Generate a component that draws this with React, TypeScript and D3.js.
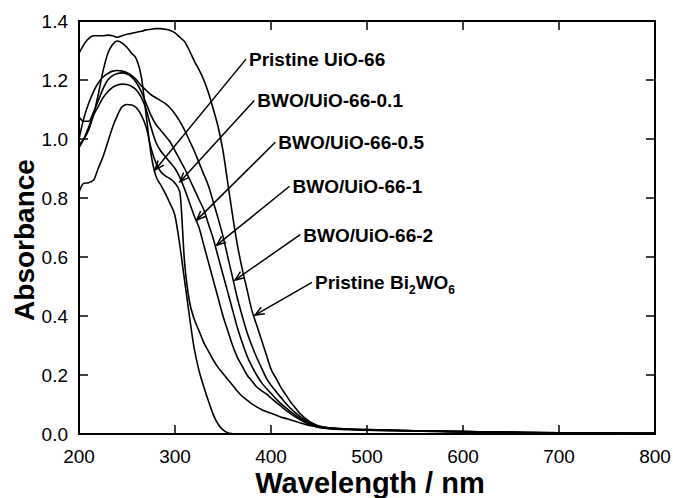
import React from "react";
import * as d3 from "d3";

const gridA = d3.range(200, 451, 5);
const gridB = [460, 480, 500, 550, 600, 650, 700, 750, 800];
const wavelengths = [...gridA, ...gridB];

const uio66 = [0.98, 1.0, 1.03, 1.08, 1.15, 1.23, 1.29, 1.32, 1.332, 1.325, 1.31, 1.29, 1.27, 1.21, 1.08, 0.95, 0.875, 0.845, 0.815, 0.78, 0.74, 0.64, 0.52, 0.4, 0.29, 0.215, 0.16, 0.11, 0.065, 0.033, 0.014, 0.004, 0.001, 0, 0, 0, 0, 0, 0, 0, 0, 0, 0, 0, 0, 0, 0, 0, 0, 0, 0,
  0, 0, 0, 0, 0, 0, 0, 0, 0];
const bwo01 = [0.82, 0.85, 0.852, 0.86, 0.9, 0.94, 0.99, 1.04, 1.08, 1.11, 1.117, 1.115, 1.105, 1.08, 1.04, 0.97, 0.92, 0.89, 0.875, 0.865, 0.85, 0.82, 0.58, 0.45, 0.39, 0.35, 0.31, 0.28, 0.25, 0.225, 0.205, 0.185, 0.165, 0.145, 0.128, 0.115, 0.102, 0.092, 0.083, 0.076, 0.07, 0.064, 0.058, 0.053, 0.048, 0.043, 0.038, 0.033, 0.029, 0.026, 0.023,
  0.019, 0.015, 0.013, 0.01, 0.007, 0.005, 0.004, 0.003, 0.002];
const bwo05 = [0.97, 1.0, 1.04, 1.08, 1.11, 1.14, 1.16, 1.175, 1.183, 1.186, 1.185, 1.178, 1.165, 1.14, 1.1, 1.04, 0.99, 0.96, 0.94, 0.92, 0.9, 0.87, 0.83, 0.785, 0.74, 0.7, 0.64, 0.58, 0.52, 0.46, 0.4, 0.35, 0.3, 0.26, 0.23, 0.2, 0.18, 0.16, 0.147, 0.136, 0.122, 0.108, 0.095, 0.082, 0.07, 0.059, 0.049, 0.04, 0.033, 0.027, 0.022,
  0.018, 0.015, 0.013, 0.01, 0.008, 0.006, 0.004, 0.003, 0.002];
const bwo1 = [1.075, 1.06, 1.06, 1.09, 1.13, 1.17, 1.2, 1.215, 1.222, 1.224, 1.22, 1.21, 1.19, 1.16, 1.12, 1.08, 1.05, 1.03, 1.01, 0.99, 0.96, 0.93, 0.9, 0.865, 0.83, 0.795, 0.76, 0.71, 0.66, 0.6, 0.54, 0.48, 0.42, 0.36, 0.31, 0.265, 0.23, 0.2, 0.175, 0.155, 0.138, 0.12, 0.104, 0.09, 0.077, 0.065, 0.054, 0.045, 0.037, 0.03, 0.025,
  0.02, 0.016, 0.014, 0.011, 0.008, 0.006, 0.004, 0.003, 0.002];
const bwo2 = [1.0, 1.07, 1.12, 1.16, 1.19, 1.21, 1.222, 1.23, 1.232, 1.23, 1.225, 1.215, 1.2, 1.18, 1.165, 1.15, 1.14, 1.13, 1.12, 1.105, 1.085, 1.06, 1.03, 0.995, 0.96, 0.92, 0.88, 0.84, 0.785, 0.73, 0.67, 0.6, 0.53, 0.46, 0.4, 0.345, 0.3, 0.26, 0.225, 0.19, 0.165, 0.145, 0.125, 0.105, 0.088, 0.073, 0.06, 0.049, 0.04, 0.032, 0.026,
  0.021, 0.017, 0.015, 0.011, 0.008, 0.006, 0.004, 0.003, 0.002];
const bi2wo6 = [1.29, 1.32, 1.34, 1.35, 1.35, 1.35, 1.352, 1.35, 1.345, 1.35, 1.355, 1.358, 1.362, 1.365, 1.37, 1.372, 1.374, 1.374, 1.372, 1.368, 1.36, 1.345, 1.33, 1.3, 1.265, 1.235, 1.2, 1.155, 1.1, 1.04, 0.96, 0.85, 0.74, 0.64, 0.56, 0.49, 0.42, 0.37, 0.32, 0.27, 0.22, 0.19, 0.16, 0.135, 0.11, 0.09, 0.07, 0.055, 0.043, 0.034, 0.027,
  0.021, 0.017, 0.015, 0.011, 0.008, 0.006, 0.004, 0.003, 0.002];

const seriesList = [uio66, bwo01, bwo05, bwo1, bwo2, bi2wo6];

const xTicks = [200, 300, 400, 500, 600, 700, 800];
const yTicks = [0.0, 0.2, 0.4, 0.6, 0.8, 1.0, 1.2, 1.4];

// annotation: label anchor (data coords) and arrow tip (data coords)
const labelTexts = ["Pristine UiO-66", "BWO/UiO-66-0.1", "BWO/UiO-66-0.5", "BWO/UiO-66-1", "BWO/UiO-66-2", "Pristine Bi2WO6"];
const labelX = [377.1, 385.7, 407.6, 422.5, 433.6, 445.8];
const labelY = [1.247, 1.107, 0.965, 0.816, 0.652, 0.49];
const tipX = [279.2, 305.2, 322.6, 343.4, 362.5, 383.3];
const tipY = [0.895, 0.855, 0.725, 0.64, 0.522, 0.403];

const W = 673, H = 498;
const L = 79, R = 655, T = 21, B = 434;

export default function App() {
  const x = d3.scaleLinear().domain([200, 800]).range([L, R]);
  const y = d3.scaleLinear().domain([0, 1.4]).range([B, T]);
  const line = d3
    .line<number>()
    .x((_, i) => x(wavelengths[i]))
    .y((d) => y(d))
    .curve(d3.curveMonotoneX);
  const font = "'Liberation Sans', Arial, Helvetica, sans-serif";
  const tick = 9;

  const arrowHead = (x1: number, y1: number, x2: number, y2: number) => {
    const ang = Math.atan2(y2 - y1, x2 - x1);
    const len = 10, spread = 0.38;
    const a1 = ang + Math.PI - spread, a2 = ang + Math.PI + spread;
    return `M${x2 + len * Math.cos(a1)},${y2 + len * Math.sin(a1)}L${x2},${y2}L${x2 + len * Math.cos(a2)},${y2 + len * Math.sin(a2)}`;
  };

  return (
    <svg width={W} height={H} style={{ position: "absolute", left: 0, top: 0, background: "#fff" }} fontFamily={font}>
      <rect x={0} y={0} width={W} height={H} fill="#fff" />
      <defs>
        <clipPath id="plot">
          <rect x={L} y={T - 2} width={R - L} height={B - T + 2} />
        </clipPath>
      </defs>
      <g clipPath="url(#plot)">
        {seriesList.map((s, i) => (
          <path key={i} d={line(s) || ""} fill="none" stroke="#000" strokeWidth={1.6} strokeLinejoin="round" />
        ))}
      </g>
      {/* frame */}
      <rect x={L} y={T} width={R - L} height={B - T} fill="none" stroke="#000" strokeWidth={2} />
      {/* ticks */}
      {xTicks.map((t) => (
        <g key={"x" + t}>
          <line x1={x(t)} x2={x(t)} y1={B} y2={B - tick} stroke="#000" strokeWidth={1.5} />
          <line x1={x(t)} x2={x(t)} y1={T} y2={T + tick} stroke="#000" strokeWidth={1.5} />
          <text x={x(t)} y={B + 29} textAnchor="middle" fontSize={19} fill="#000">
            {t}
          </text>
        </g>
      ))}
      {yTicks.map((t) => (
        <g key={"y" + t}>
          <line x1={L} x2={L + tick} y1={y(t)} y2={y(t)} stroke="#000" strokeWidth={1.5} />
          <line x1={R} x2={R - tick} y1={y(t)} y2={y(t)} stroke="#000" strokeWidth={1.5} />
          <text x={L - 11} y={y(t)} dy="0.36em" textAnchor="end" fontSize={19} fill="#000">
            {t.toFixed(1)}
          </text>
        </g>
      ))}
      {/* axis titles */}
      <text x={370} y={493} textAnchor="middle" fontSize={29} fontWeight="bold" fill="#000">
        Wavelength / nm
      </text>
      <text transform={`translate(34,240) rotate(-90)`} textAnchor="middle" fontSize={28} fontWeight="bold" fill="#000">
        Absorbance
      </text>
      {/* annotations */}
      {labelTexts.map((txt, i) => {
        const lx = x(labelX[i]), ly = y(labelY[i]);
        const sx = lx - 3, sy = ly - 7;
        const tx = x(tipX[i]), ty = y(tipY[i]);
        const isBi = txt.includes("Bi2WO6");
        return (
          <g key={"a" + i}>
            <line x1={sx} y1={sy} x2={tx} y2={ty} stroke="#000" strokeWidth={1.5} />
            <path d={arrowHead(sx, sy, tx, ty)} fill="none" stroke="#000" strokeWidth={1.5} />
            <text x={lx} y={ly} fontSize={19} fontWeight="bold" fill="#000">
              {isBi ? (
                <>
                  <tspan>Pristine Bi</tspan>
                  <tspan fontSize={12} dy={5}>2</tspan>
                  <tspan dy={-5}>WO</tspan>
                  <tspan fontSize={12} dy={5}>6</tspan>
                </>
              ) : (
                txt
              )}
            </text>
          </g>
        );
      })}
    </svg>
  );
}
